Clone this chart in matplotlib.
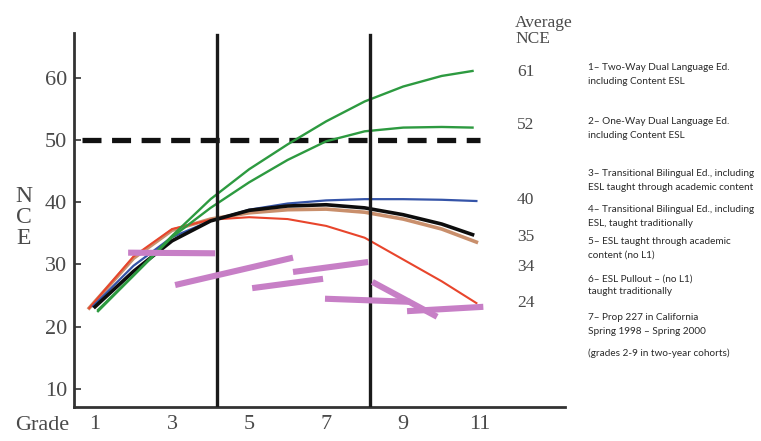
import matplotlib.pyplot as plt

# Curves (grade, NCE)
grades_green1 = [1.08, 2, 3, 4, 5, 6, 7, 8, 9, 10, 10.8]
nce_green1 = [22.7, 28.3, 34.6, 40.5, 45.3, 49.3, 53.0, 56.2, 58.6, 60.3, 61.1]
grades_green2 = [1.08, 2, 3, 4, 5, 6, 7, 8, 9, 10, 10.8]
nce_green2 = [22.5, 28.2, 34.4, 39.1, 43.2, 46.8, 49.8, 51.4, 52.0, 52.1, 52.0]
grades_blue = [0.95, 2, 3, 4, 5, 6, 7, 8, 9, 10, 10.9]
nce_blue = [23.3, 29.8, 34.4, 37.0, 38.8, 39.8, 40.3, 40.5, 40.5, 40.4, 40.2]
grades_tan = [0.85, 2, 3, 4, 5, 6, 7, 8, 9, 10, 10.9]
nce_tan = [23.0, 31.0, 35.5, 37.3, 38.3, 38.8, 38.9, 38.4, 37.3, 35.7, 33.6]
grades_black = [1.0, 2, 3, 4, 5, 6, 7, 8, 9, 10, 10.8]
nce_black = [23.2, 28.9, 33.8, 37.0, 38.7, 39.4, 39.6, 39.1, 38.0, 36.5, 34.8]
grades_red = [0.85, 2, 3, 4, 5, 6, 7, 8, 9, 10, 10.9]
nce_red = [23.0, 31.3, 35.7, 37.2, 37.6, 37.3, 36.2, 34.3, 30.8, 27.3, 23.8]

# Prop 227 two-year cohort segments: (grade_start, grade_end, nce_start, nce_end)
prop227 = [
    (1.86, 4.12, 31.9, 31.8),
    (3.08, 6.14, 26.7, 31.1),
    (5.08, 6.92, 26.2, 27.7),
    (6.14, 8.09, 28.8, 30.4),
    (6.97, 9.18, 24.5, 24.0),
    (8.20, 9.88, 27.2, 21.6),
    (9.10, 11.08, 22.5, 23.2),
]

avg_nce = ['61', '52', '40', '35', '34', '24']
avg_nce_y = [60.9, 52.4, 40.3, 34.4, 29.6, 23.8]

legend_lines = [
    (68, '1\u2013 Two-Way Dual Language Ed.'),
    (81, 'including Content ESL'),
    (122, '2\u2013 One-Way Dual Language Ed.'),
    (135, 'including Content ESL'),
    (174, '3\u2013 Transitional Bilingual Ed., including'),
    (188, 'ESL taught through academic content'),
    (210, '4\u2013 Transitional Bilingual Ed., including'),
    (223, 'ESL, taught traditionally'),
    (241, '5\u2013 ESL taught through academic'),
    (255, 'content (no L1)'),
    (279, '6\u2013 ESL Pullout \u2013 (no L1)'),
    (292, 'taught traditionally'),
    (318, '7\u2013 Prop 227 in California'),
    (332, 'Spring 1998 \u2013 Spring 2000'),
    (353, '(grades 2-9 in two-year cohorts)'),
]

W, H = 761, 441
fig = plt.figure(figsize=(W / 100, H / 100), dpi=100)
ax = fig.add_axes([74 / W, 1 - 407 / H, (565 - 74) / W, (407 - 33) / H])
ax.set_xlim(0.455, 13.2)
ax.set_ylim(7.1, 67.2)

serif = 'Liberation Serif'
gray = '#4a4a4a'

# reference line and grade-span dividers
ax.hlines(50, 0.66, 11.0, colors='#111111', lw=3.8, linestyles=(0, (3.6, 2.0)), zorder=2)
for g in (4.17, 8.14):
    ax.axvline(g, ymin=0, ymax=0.995, color='#1a1a1a', lw=2.4, zorder=5)

ax.plot(grades_tan, nce_tan, color='#c98f6c', lw=2.6, zorder=3)
ax.plot(grades_red, nce_red, color='#e8452c', lw=1.5, zorder=3)
ax.plot(grades_blue, nce_blue, color='#3554a8', lw=1.6, zorder=3)
ax.plot(grades_black, nce_black, color='#0d0d0d', lw=2.6, zorder=4)
ax.plot(grades_green1, nce_green1, color='#2d9a40', lw=1.7, zorder=4)
ax.plot(grades_green2, nce_green2, color='#2d9a40', lw=1.7, zorder=4)

for g0, g1, n0, n1 in prop227:
    ax.plot([g0, g1], [n0, n1], color='#c77fc6', lw=4.4, solid_capstyle='butt', zorder=6)

for s in ('top', 'right'):
    ax.spines[s].set_visible(False)
for s in ('left', 'bottom'):
    ax.spines[s].set_linewidth(2.0)
    ax.spines[s].set_color('#333333')

ax.set_yticks([10, 20, 30, 40, 50, 60])
ax.set_xticks([1, 3, 5, 7, 9, 11])
ax.tick_params(axis='y', direction='in', length=5, width=1.2, colors='#333333', pad=5,
               labelsize=16, labelcolor=gray)
ax.tick_params(axis='x', length=0, pad=6, labelsize=16, labelcolor=gray)
for lab in ax.get_xticklabels() + ax.get_yticklabels():
    lab.set_fontfamily(serif)

fig.text(15 / W, 1 - 425 / H, 'Grade', fontsize=16, family=serif, color=gray,
         ha='left', va='center')
fig.text(24 / W, 1 - 218 / H, 'N\nC\nE', fontsize=17, family=serif, color=gray,
         ha='center', va='center', linespacing=1.0)

fig.text(515 / W, 1 - 31 / H, 'Average\nNCE', fontsize=12.5, family=serif, color='#4a4a4a',
         ha='left', va='center', linespacing=1.05)
for lab, yv in zip(avg_nce, avg_nce_y):
    ax.text(11.95, yv, lab, fontsize=12.5, family=serif, color='#4a4a4a',
            ha='left', va='center', clip_on=False)

for yp, txt in legend_lines:
    fig.text(588 / W, 1 - yp / H, txt, fontsize=7.2, family='Lato', color='#2a2a2a',
             ha='left', va='center')

fig.savefig('out.png', dpi=100)
